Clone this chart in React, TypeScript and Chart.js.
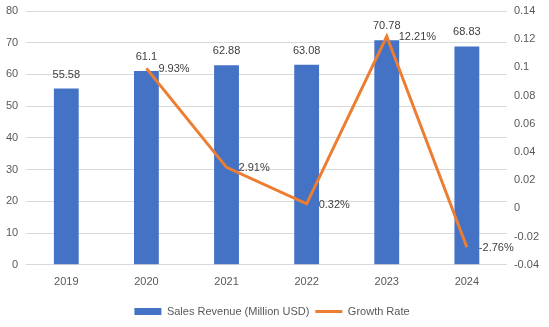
import React, { useEffect, useRef } from "react";
import { Chart, registerables } from "chart.js";

Chart.register(...registerables);

const years = ["2019", "2020", "2021", "2022", "2023", "2024"];
const salesRevenue = [55.58, 61.1, 62.88, 63.08, 70.78, 68.83];
const growthRate = [null, 0.0993, 0.0291, 0.0032, 0.1221, -0.0276];
const growthLabels = ["", "9.93%", "2.91%", "0.32%", "12.21%", "-2.76%"];

const FONT = "'Liberation Sans', Arial, sans-serif";

const labelPlugin = {
  id: "valueLabels",
  afterDatasetsDraw(chart: any) {
    const ctx = chart.ctx;
    ctx.save();
    ctx.font = `11px ${FONT}`;
    ctx.fillStyle = "#404040";
    const barMeta = chart.getDatasetMeta(0);
    ctx.textAlign = "center";
    ctx.textBaseline = "middle";
    barMeta.data.forEach((el: any, i: number) => {
      ctx.fillText(String(salesRevenue[i]), el.x, el.y - 14);
    });
    const lineMeta = chart.getDatasetMeta(1);
    ctx.textAlign = "left";
    lineMeta.data.forEach((el: any, i: number) => {
      if (growthRate[i] === null) return;
      ctx.fillText(growthLabels[i], el.x + 12, el.y + 1);
    });
    ctx.restore();
  },
};

const noVPad = (s: any) => {
  s.paddingTop = 0;
  s.paddingBottom = 0;
};

export default function App() {
  const ref = useRef<HTMLCanvasElement>(null);
  useEffect(() => {
    const chart = new Chart(ref.current!, {
      type: "bar",
      data: {
        labels: years,
        datasets: [
          {
            type: "bar",
            label: "Sales Revenue (Million USD)",
            data: salesRevenue,
            backgroundColor: "#4472C4",
            borderWidth: 0,
            barPercentage: 0.31,
            categoryPercentage: 1,
            yAxisID: "y",
            order: 1,
            pointStyle: "rect",
          } as any,
          {
            type: "line",
            label: "Growth Rate",
            data: growthRate,
            borderColor: "#ED7D31",
            backgroundColor: "#ED7D31",
            borderWidth: 3,
            pointRadius: 0,
            tension: 0,
            yAxisID: "y1",
            order: 0,
            pointStyle: "line",
          } as any,
        ],
      },
      options: {
        animation: false,
        responsive: true,
        maintainAspectRatio: false,
        layout: { padding: { left: -2, right: 3, top: 11, bottom: 0 } },
        plugins: {
          tooltip: { enabled: false },
          legend: {
            position: "bottom",
            labels: {
              usePointStyle: true,
              pointStyleWidth: 27,
              boxHeight: 7,
              color: "#595959",
              font: { family: FONT, size: 11 },
              padding: 6,
              sort: (a: any, b: any) => a.datasetIndex - b.datasetIndex,
            },
          },
        },
        scales: {
          x: {
            grid: { display: false, drawTicks: false },
            border: { display: false },
            ticks: { color: "#595959", font: { family: FONT, size: 11 }, padding: 11 },
          },
          y: {
            position: "left",
            min: 0,
            max: 80,
            grid: { color: "#d9d9d9", drawTicks: false },
            border: { display: false },
            ticks: { stepSize: 10, color: "#595959", font: { family: FONT, size: 11 }, padding: 8 },
            afterFit: noVPad,
          },
          y1: {
            position: "right",
            min: -0.04,
            max: 0.14,
            grid: { display: false, drawTicks: false },
            border: { display: false },
            ticks: {
              stepSize: 0.02,
              color: "#595959",
              font: { family: FONT, size: 11 },
              padding: 7,
              callback: (v: any) => String(Number(Number(v).toFixed(2))),
            },
            afterFit: noVPad,
          },
        },
      } as any,
      plugins: [labelPlugin],
    });
    return () => chart.destroy();
  }, []);
  return (
    <div style={{ position: "fixed", left: 0, top: 0, width: 549, height: 327, background: "#fff" }}>
      <canvas ref={ref} />
    </div>
  );
}
